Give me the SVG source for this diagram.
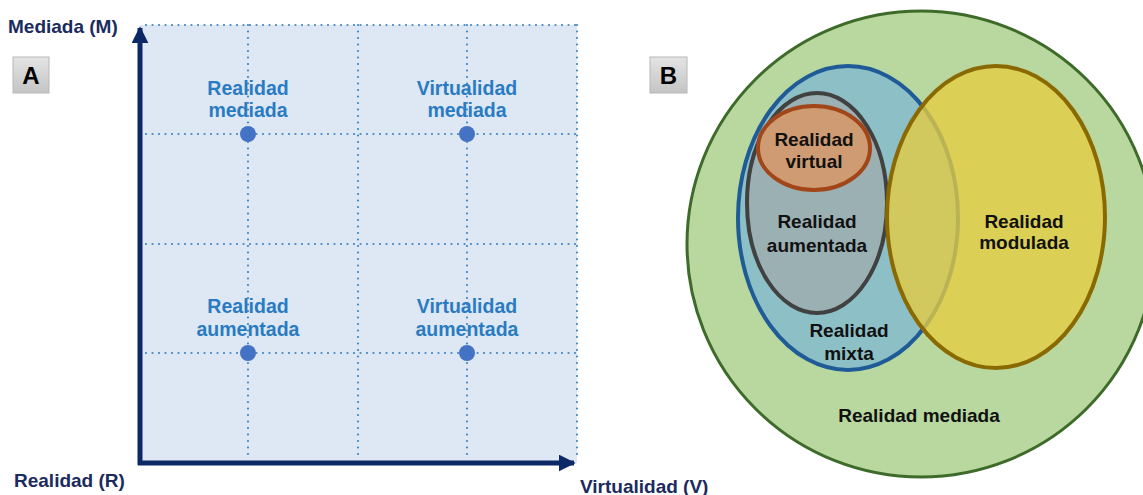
<svg xmlns="http://www.w3.org/2000/svg" width="1143" height="495" viewBox="0 0 1143 495">
<defs>
  <linearGradient id="boxg" x1="0" y1="0" x2="0" y2="1">
    <stop offset="0" stop-color="#e4e4e4"/>
    <stop offset="1" stop-color="#c4c4c4"/>
  </linearGradient>
  <marker id="ah" viewBox="0 0 10 10" refX="9" refY="5" markerWidth="3.4" markerHeight="3.4" orient="auto" markerUnits="strokeWidth">
    <path d="M0,0 L10,5 L0,10 z" fill="#0d2866"/>
  </marker>
</defs>
<style>
  .grid { stroke: #3f86c6; stroke-width: 2.2; stroke-dasharray: 0 6.5; stroke-linecap: round; fill: none; }
  .dot { fill: #4472c4; }
  .lblA { font-family: "Liberation Sans", Arial, sans-serif; font-weight: bold; font-size: 19.5px; fill: #2a7bc2; text-anchor: middle; }
  .axis { font-family: "Liberation Sans", Arial, sans-serif; font-weight: bold; font-size: 19px; fill: #1b2b5e; }
  .lblB { font-family: "Liberation Sans", Arial, sans-serif; font-weight: bold; font-size: 19px; fill: #111; text-anchor: middle; }
  .box { fill: url(#boxg); stroke: #b8b8b8; stroke-width: 1; }
  .boxt { font-family: "Liberation Sans", Arial, sans-serif; font-weight: bold; font-size: 24px; fill: #000; text-anchor: middle; }
  .ax { stroke: #0d2866; stroke-width: 5; fill: none; }
</style>
<rect x="0" y="0" width="1143" height="495" fill="#ffffff"/>

<!-- Panel A -->
<g id="panelA">
  <rect x="140" y="25" width="437" height="438" fill="#dde8f4"/>
  <g id="grid">
    <line class="grid" x1="146" y1="25" x2="577" y2="25"/>
    <line class="grid" x1="146" y1="134" x2="577" y2="134"/>
    <line class="grid" x1="146" y1="244" x2="577" y2="244"/>
    <line class="grid" x1="146" y1="353" x2="577" y2="353"/>
    <line class="grid" x1="248" y1="25" x2="248" y2="460"/>
    <line class="grid" x1="358" y1="25" x2="358" y2="460"/>
    <line class="grid" x1="467" y1="25" x2="467" y2="460"/>
    <line class="grid" x1="577" y1="25" x2="577" y2="456"/>
  </g>
  <g id="nodeRM">
    <circle class="dot" cx="248" cy="134" r="8"/>
    <text class="lblA" x="248" y="95">Realidad</text>
    <text class="lblA" x="248" y="117">mediada</text>
  </g>
  <g id="nodeVM">
    <circle class="dot" cx="467" cy="134" r="8"/>
    <text class="lblA" x="467" y="95">Virtualidad</text>
    <text class="lblA" x="467" y="117">mediada</text>
  </g>
  <g id="nodeRA">
    <circle class="dot" cx="248" cy="353" r="8"/>
    <text class="lblA" x="248" y="313">Realidad</text>
    <text class="lblA" x="248" y="336">aumentada</text>
  </g>
  <g id="nodeVA">
    <circle class="dot" cx="467" cy="353" r="8"/>
    <text class="lblA" x="467" y="313">Virtualidad</text>
    <text class="lblA" x="467" y="336">aumentada</text>
  </g>
  <g id="connectors">
    <line class="ax" x1="140" y1="465" x2="140" y2="28" marker-end="url(#ah)"/>
    <line class="ax" x1="138" y1="463" x2="574" y2="463" marker-end="url(#ah)"/>
  </g>
  <text class="axis" x="8" y="33">Mediada (M)</text>
  <text class="axis" x="14" y="487">Realidad (R)</text>
  <text class="axis" x="580" y="493">Virtualidad (V)</text>
  <g id="labelA">
    <rect class="box" x="13" y="57" width="36" height="36"/>
    <text class="boxt" x="31" y="84">A</text>
  </g>
</g>

<!-- Panel B -->
<g id="panelB">
  <g id="labelB">
    <rect class="box" x="650" y="57" width="37" height="36"/>
    <text class="boxt" x="668.500" y="84">B</text>
  </g>
  <g id="mediada">
    <ellipse cx="921" cy="244" rx="234" ry="233" fill="#b8d8a0" stroke="#3e6a2a" stroke-width="3"/>
    <text class="lblB" x="919" y="422">Realidad mediada</text>
  </g>
  <g id="mixta">
    <ellipse cx="848" cy="218" rx="110" ry="152" fill="#8dbfc6" stroke="#1f5b97" stroke-width="4"/>
    <text class="lblB" x="849" y="337">Realidad</text>
    <text class="lblB" x="849" y="360">mixta</text>
  </g>
  <g id="aumentada">
    <ellipse cx="817" cy="203" rx="70" ry="110" fill="#9bb0b2" stroke="#414141" stroke-width="4"/>
    <text class="lblB" x="817" y="228">Realidad</text>
    <text class="lblB" x="817" y="252">aumentada</text>
  </g>
  <g id="virtual">
    <ellipse cx="814" cy="148" rx="56" ry="42" fill="#cf9b72" stroke="#a2461a" stroke-width="4"/>
    <text class="lblB" x="814" y="146">Realidad</text>
    <text class="lblB" x="814" y="168">virtual</text>
  </g>
  <g id="modulada">
    <ellipse cx="996" cy="217" rx="109" ry="151" fill="#e6cc40" fill-opacity="0.78" stroke="#8a6a00" stroke-width="4"/>
    <text class="lblB" x="1024" y="228">Realidad</text>
    <text class="lblB" x="1024" y="249">modulada</text>
  </g>
</g>
</svg>
